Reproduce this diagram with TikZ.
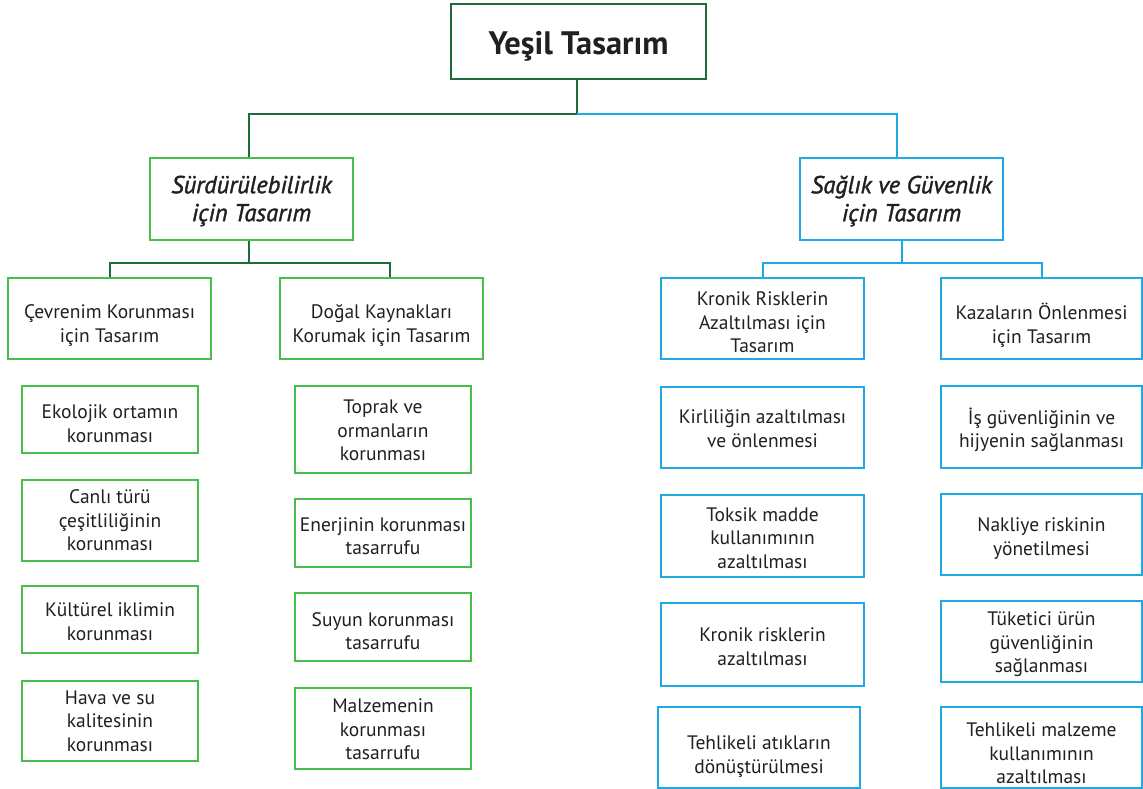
\documentclass[tikz,border=0pt]{standalone}
\usepackage{fontspec}
\setmainfont{PT Sans}
\newfontfamily\semiital{PT Sans Italic}[FakeBold=1.5]
\definecolor{dgreen}{HTML}{1E6B3C}
\definecolor{lgreen}{HTML}{47BD4A}
\definecolor{lblue}{HTML}{1FA9E4}
\definecolor{txt}{HTML}{231F20}
\tikzset{
  bx/.style={draw, line width=2pt, inner sep=0pt},
  gbox/.style={bx, draw=lgreen},
  bbox/.style={bx, draw=lblue},
  topbox/.style={bx, draw=dgreen},
  bodytext/.style={inner sep=0pt, align=center, text=txt, font=\fontsize{19.5}{23.5}\selectfont},
  toptext/.style={bodytext, font=\fontsize{32.5}{38}\selectfont\bfseries},
  midtext/.style={bodytext, font=\fontsize{24.5}{28}\selectfont\semiital},
  gline/.style={draw=dgreen, line width=2.6pt},
  bline/.style={draw=lblue, line width=2.2pt},
}
% name, x1, y1, x2, y2, box style, text style + vertical offset, text
\newcommand{\boxat}[8]{%
  \node[#6, minimum width={#4-#2}, minimum height={#5-#3}] (#1) at ({(#2+#4)/2},{(#3+#5)/2}) {};
  \node[#7] (#1-t) at (#1.center) {#8};}
\begin{document}
\begin{tikzpicture}[x=1pt,y=-1pt]
\fill[white] (0,0) rectangle (1143,789);
\useasboundingbox (0,0) rectangle (1143,789);
% top
\boxat{top}{451}{4}{706}{79}{topbox}{toptext,yshift=-5pt}{Yeşil Tasarım}
% level 1
\boxat{S}{150}{158}{353}{240}{gbox}{midtext,yshift=-2pt}{Sürdürülebilirlik\\için Tasarım}
\boxat{H}{800}{158}{1003}{240}{bbox}{midtext,yshift=-2pt}{Sağlık ve Güvenlik\\için Tasarım}
% level 2
\boxat{C}{8}{278}{211}{359}{gbox}{bodytext,yshift=-7pt}{Çevrenim Korunması\\için Tasarım}
\boxat{D}{280}{278}{483}{359}{gbox}{bodytext,yshift=-7pt}{Doğal Kaynakları\\Korumak için Tasarım}
\boxat{K}{661}{278}{864}{359}{bbox}{bodytext,yshift=-4pt}{Kronik Risklerin\\Azaltılması için\\Tasarım}
\boxat{Z}{941}{278}{1142}{359}{bbox}{bodytext,yshift=-7pt}{Kazaların Önlenmesi\\için Tasarım}
% column 1
\boxat{c1}{22}{386}{198}{453}{gbox}{bodytext,yshift=-4pt}{Ekolojik ortamın\\korunması}
\boxat{c2}{22}{480}{198}{561}{gbox}{bodytext}{Canlı türü\\çeşitliliğinin\\korunması}
\boxat{c3}{22}{586}{198}{653}{gbox}{bodytext,yshift=-2pt}{Kültürel iklimin\\korunması}
\boxat{c4}{22}{681}{198}{761}{gbox}{bodytext}{Hava ve su\\kalitesinin\\korunması}
% column 2
\boxat{d1}{295}{386}{471}{473}{gbox}{bodytext,yshift=-1pt}{Toprak ve\\ormanların\\korunması}
\boxat{d2}{295}{499}{471}{567}{gbox}{bodytext,yshift=-3pt}{Enerjinin korunması\\tasarrufu}
\boxat{d3}{295}{593}{471}{661}{gbox}{bodytext,yshift=-4pt}{Suyun korunması\\tasarrufu}
\boxat{d4}{295}{688}{471}{769}{gbox}{bodytext,yshift=-1pt}{Malzemenin\\korunması\\tasarrufu}
% column 3
\boxat{k1}{661}{387}{864}{468}{bbox}{bodytext,yshift=-1pt}{Kirliliğin azaltılması\\ve önlenmesi}
\boxat{k2}{661}{495}{864}{577}{bbox}{bodytext,yshift=-2pt}{Toksik madde\\kullanımının\\azaltılması}
\boxat{k3}{661}{603}{864}{686}{bbox}{bodytext,yshift=-2pt}{Kronik risklerin\\azaltılması}
\boxat{k4}{658}{707}{860}{788}{bbox}{bodytext,yshift=-9pt}{Tehlikeli atıkların\\dönüştürülmesi}
% column 4
\boxat{z1}{941}{386}{1142}{468}{bbox}{bodytext,yshift=-3pt}{İş güvenliğinin ve\\hijyenin sağlanması}
\boxat{z2}{941}{494}{1142}{575}{bbox}{bodytext,yshift=-4pt}{Nakliye riskinin\\yönetilmesi}
\boxat{z3}{941}{601}{1142}{682}{bbox}{bodytext,yshift=-3pt}{Tüketici ürün\\güvenliğinin\\sağlanması}
\boxat{z4}{941}{707}{1142}{788}{bbox}{bodytext,yshift=-6pt}{Tehlikeli malzeme\\kullanımının\\azaltılması}
% connectors
\coordinate (j0) at (577,114);
\coordinate (jl) at (249,114);
\coordinate (jr) at (897,114);
\draw[gline] (top.south -| j0) -- (j0) -- (jl) -- (jl |- S.north);
\draw[bline] (j0) -- (jr) -- (jr |- H.north);
\coordinate (s0) at (249,263);
\coordinate (sl) at (110,263);
\coordinate (sr) at (390,263);
\draw[gline] (s0 |- S.south) -- (s0);
\draw[gline] (sl |- C.north) -- (sl) -- (sr) -- (sr |- D.north);
\coordinate (h0) at (902,263);
\coordinate (hl) at (763,263);
\coordinate (hr) at (1042,263);
\draw[bline] (h0 |- H.south) -- (h0);
\draw[bline] (hl |- K.north) -- (hl) -- (hr) -- (hr |- Z.north);
\end{tikzpicture}
\end{document}
